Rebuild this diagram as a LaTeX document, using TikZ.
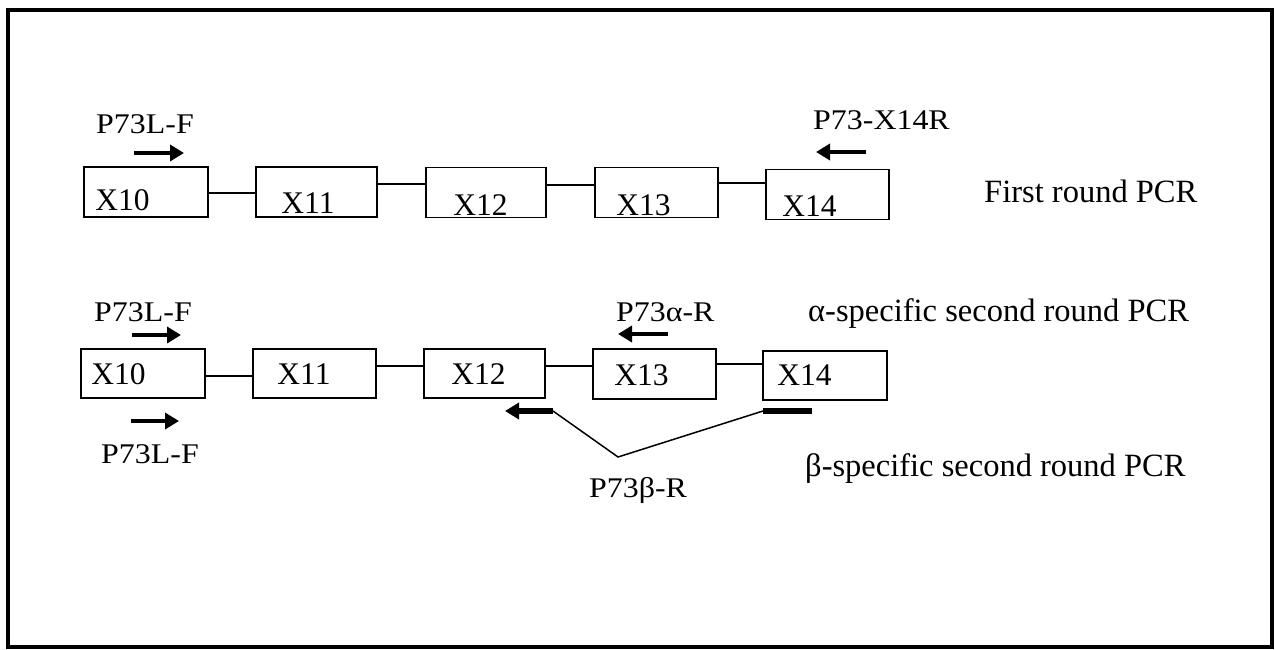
\documentclass[tikz,border=0pt]{standalone}
\usepackage{fontspec}
\setmainfont{Liberation Serif}
\newfontfamily\pfont[FakeStretch=1.12]{Liberation Serif}
\usetikzlibrary{arrows.meta}
\tikzset{
  exon/.style={draw, line width=1.5pt, rectangle, inner sep=0pt, minimum height=50pt},
  xlbl/.style={font=\fontsize{31.5}{31.5}\selectfont, inner sep=0pt, anchor=base west},
  plbl/.style={font=\pfont\fontsize{28.5}{28.5}\selectfont, inner sep=0pt, anchor=base west},
  rlbl/.style={font=\fontsize{32.5}{32.5}\selectfont, inner sep=0pt, anchor=base west},
  link/.style={line width=1.5pt},
  primer/.style={line width=4.5pt, -{Triangle[length=14pt,width=16pt]}},
  bar/.style={line width=5.5pt},
}
\begin{document}
\begin{tikzpicture}[x=1pt,y=-1pt]
\useasboundingbox (0,0) rectangle (1275,650);
\draw[line width=3.5pt] (8,10) rectangle (1272,647);

% ---------- row 1 ----------
\node[exon, minimum width=124pt, label={[xlbl,anchor=base west,xshift=12pt,yshift=7pt]south west:X10}] (a10) at (146,192) {};
\node[exon, minimum width=121pt, label={[xlbl,anchor=base west,xshift=26pt,yshift=4pt]south west:X11}] (a11) at (316.5,192) {};
\node[exon, minimum width=120pt, label={[xlbl,anchor=base west,xshift=28pt,yshift=3pt]south west:X12}] (a12) at (486,192.5) {};
\node[exon, minimum width=123pt, label={[xlbl,anchor=base west,xshift=22pt,yshift=3pt]south west:X13}] (a13) at (656.5,192.5) {};
\node[exon, minimum width=123pt, label={[xlbl,anchor=base west,xshift=17pt,yshift=4pt]south west:X14}] (a14) at (827.5,194.5) {};

\draw[link] ([yshift=-1pt]a10.east) -- ([yshift=-1pt]a10.east -| a11.west);
\draw[link] ([yshift=8pt]a11.east) -- ([yshift=8pt]a11.east -| a12.west);
\draw[link] ([yshift=7.5pt]a12.east) -- ([yshift=7.5pt]a12.east -| a13.west);
\draw[link] ([yshift=9.5pt]a13.east) -- ([yshift=9.5pt]a13.east -| a14.west);

\node[plbl] (p1) at (96,134) {P73L-F};
\coordinate (p1s) at (134,153);
\coordinate (p1e) at (184,153);
\draw[primer] (p1s) -- (p1e);

\node[plbl] (p2) at (813,130) {P73-X14R};
\coordinate (p2s) at (866,152);
\coordinate (p2e) at (816,152);
\draw[primer] (p2s) -- (p2e);

\node[rlbl] (r1) at (984,202) {First round PCR};

% ---------- row 2 ----------
\node[exon, minimum width=124pt, minimum height=49pt, label={[xlbl,anchor=base west,xshift=11pt,yshift=14pt]south west:X10}] (b10) at (143,373.5) {};
\node[exon, minimum width=123pt, minimum height=49pt, label={[xlbl,anchor=base west,xshift=25pt,yshift=14pt]south west:X11}] (b11) at (314.5,373.5) {};
\node[exon, minimum width=121pt, minimum height=49pt, label={[xlbl,anchor=base west,xshift=28pt,yshift=14pt]south west:X12}] (b12) at (484.5,373.5) {};
\node[exon, minimum width=123pt, minimum height=50pt, label={[xlbl,anchor=base west,xshift=22pt,yshift=14pt]south west:X13}] (b13) at (654.5,374) {};
\node[exon, minimum width=124pt, minimum height=49pt, label={[xlbl,anchor=base west,xshift=15pt,yshift=15pt]south west:X14}] (b14) at (825,375.5) {};

\draw[link] ([yshift=-2.5pt]b10.east) -- ([yshift=-2.5pt]b10.east -| b11.west);
\draw[link] ([yshift=7.5pt]b11.east) -- ([yshift=7.5pt]b11.east -| b12.west);
\draw[link] ([yshift=7.5pt]b12.east) -- ([yshift=7.5pt]b12.east -| b13.west);
\draw[link] ([yshift=10pt]b13.east) -- ([yshift=10pt]b13.east -| b14.west);

\node[plbl] (q1) at (94,321) {P73L-F};
\coordinate (q1s) at (132,335);
\coordinate (q1e) at (181,335);
\draw[primer] (q1s) -- (q1e);

\node[plbl] (q2) at (101,463) {P73L-F};
\coordinate (q2s) at (131,421);
\coordinate (q2e) at (179,421);
\draw[primer] (q2s) -- (q2e);

\node[plbl] (q3) at (616,321) {P73α-R};
\coordinate (q3s) at (668,334);
\coordinate (q3e) at (618,334);
\draw[primer] (q3s) -- (q3e);

% beta primer (split)
\coordinate (bl) at (553,411);
\coordinate (bt) at (505,411);
\coordinate (br1) at (763,411);
\coordinate (br2) at (812,411);
\coordinate (bv) at (618,457);
\draw[primer, line width=5.5pt] (bl) -- (bt);
\draw[bar] (br1) -- (br2);
\draw[link] (bl) -- (bv) -- (br1);
\node[plbl] (q4) at (589,497) {P73β-R};

\node[rlbl] (r2) at (808,321) {α-specific second round PCR};
\node[rlbl] (r3) at (805,476) {β-specific second round PCR};
\end{tikzpicture}
\end{document}
